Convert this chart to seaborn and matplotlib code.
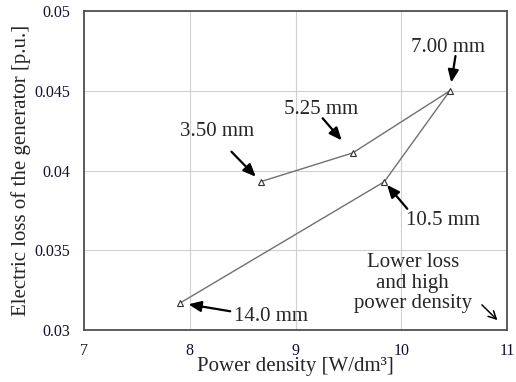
import matplotlib
matplotlib.use("Agg")
import matplotlib.pyplot as plt
import seaborn as sns
import pandas as pd

# Data
labels = ["3.50 mm", "5.25 mm", "7.00 mm", "10.5 mm", "14.0 mm"]
power_density = [8.67, 9.54, 10.46, 9.84, 7.91]
electric_loss = [0.0393, 0.0411, 0.0450, 0.0393, 0.0317]
x_ticks = [7, 8, 9, 10, 11]
y_ticks = [0.03, 0.035, 0.04, 0.045, 0.05]
y_ticklabels = ["0.03", "0.035", "0.04", "0.045", "0.05"]

sns.set_style("white")
plt.rcParams["font.family"] = ["Liberation Serif", "DejaVu Serif"]

df = pd.DataFrame({"x": power_density, "y": electric_loss, "label": labels})

fig = plt.figure(figsize=(5.16, 3.82), dpi=100)
ax = fig.add_axes([0.1628, 0.136, 0.8198, 0.8352])

sns.lineplot(data=df, x="x", y="y", sort=False, ax=ax, color="#707070",
             linewidth=1.0, marker="^", markersize=5,
             markerfacecolor="white", markeredgecolor="#303030",
             markeredgewidth=0.8)

ax.set_xlim(7, 11)
ax.set_ylim(0.03, 0.05)
ax.set_xticks(x_ticks)
ax.set_xticklabels([str(t) for t in x_ticks], fontsize=11.5, color="#101030")
ax.set_yticks(y_ticks)
ax.set_yticklabels(y_ticklabels, fontsize=11.5, color="#101030")
ax.grid(True, color="#d0d0d0", linewidth=0.8)
ax.set_axisbelow(True)
for s in ax.spines.values():
    s.set_color("#505050")
    s.set_linewidth(1.3)
ax.tick_params(axis="both", direction="out", length=3, width=0.8,
               color="#505050")
ax.tick_params(axis="y", pad=7)
ax.tick_params(axis="x", pad=6)

ax.set_xlabel("Power density [W/dm\u00b3]", fontsize=15)
ax.xaxis.set_label_coords(0.5, -0.085)
ax.set_ylabel("Electric loss of the generator [p.u.]", fontsize=15)
ax.yaxis.set_label_coords(-0.125, 0.5)

fs = 15
# (text offset, arrow tail offset, shrink at tip) in points
ann = {
    "3.50 mm": ((-31, 36), (-21, 21.6), 5),
    "5.25 mm": ((-23, 31), (-21.6, 25), 12),
    "7.00 mm": ((-1.5, 31), (4, 25), 6),
    "10.5 mm": ((42, -28), (16.5, -19.5), 3),
    "14.0 mm": ((65, -10), (36, -6), 6),
}
for lab, xv, yv in zip(labels, power_density, electric_loss):
    toff, aoff, shr = ann[lab]
    ax.annotate("", xy=(xv, yv), xycoords="data", xytext=aoff,
                textcoords="offset points",
                arrowprops=dict(arrowstyle="-|>,head_length=0.75,head_width=0.32",
                                color="black", lw=1.6, shrinkA=0, shrinkB=shr))
    ax.annotate(lab, xy=(xv, yv), xycoords="data", xytext=toff,
                textcoords="offset points", ha="center", va="center", fontsize=fs)

ax.text(0.777, 0.147, "Lower loss\nand high\npower density", transform=ax.transAxes,
        ha="center", va="center", fontsize=fs, linespacing=1.1)
ax.annotate("", xy=(0.982, 0.025), xycoords="axes fraction",
            xytext=(0.936, 0.085), textcoords="axes fraction",
            arrowprops=dict(arrowstyle="->,head_length=0.55,head_width=0.28",
                            color="black", lw=1.1))

fig.savefig("out.png", dpi=100)
